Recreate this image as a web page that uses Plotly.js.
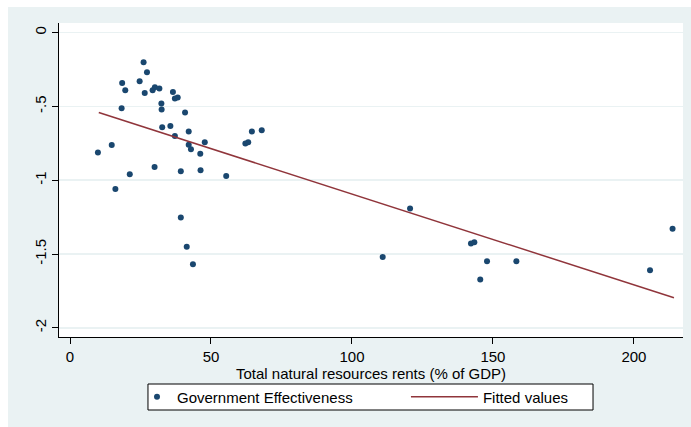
<!DOCTYPE html>
<html>
<head>
<meta charset="utf-8">
<script src="https://cdn.plot.ly/plotly-3.0.1.min.js"></script>
<style>
html,body{margin:0;padding:0;background:#ffffff;}
#chart{position:absolute;left:8px;top:7px;width:683px;height:420px;}
</style>
</head>
<body>
<div id="chart"></div>
<script>
// Total natural resources rents (% of GDP)
var rents = [26.1, 27.3, 18.5, 24.7, 19.6, 26.5, 29.3, 30.1, 31.7, 36.5,
             37.2, 38.2, 32.4, 32.5, 18.3, 40.8, 32.7, 35.6, 42.1, 37.2,
             42.1, 42.9, 47.8, 46.2, 9.9, 14.8, 21.2, 30.0, 39.3, 46.3,
             55.4, 16.1, 39.3, 41.4, 43.6, 62.2, 63.2, 64.5, 68.0,
             120.6, 110.9, 142.2, 143.4, 147.9, 145.5, 158.3, 205.7, 213.7];
// Government Effectiveness
var govEff = [-0.201, -0.269, -0.341, -0.330, -0.390, -0.410, -0.390, -0.370, -0.379, -0.402,
              -0.447, -0.440, -0.480, -0.521, -0.512, -0.541, -0.641, -0.632, -0.670, -0.700,
              -0.760, -0.790, -0.742, -0.821, -0.812, -0.762, -0.959, -0.911, -0.940, -0.932,
              -0.972, -1.060, -1.252, -1.450, -1.570, -0.751, -0.742, -0.670, -0.661,
              -1.191, -1.520, -1.428, -1.421, -1.549, -1.672, -1.549, -1.610, -1.329];
// Fitted values (linear fit)
var fitX = [10.2, 214.2];
var fitY = [-0.541, -1.796];

var xTickVals = [0, 50, 100, 150, 200];
var xTickText = ["0", "50", "100", "150", "200"];
var yTickVals = [0, -0.5, -1, -1.5, -2];
var yTickText = ["0", "-.5", "-1", "-1.5", "-2"];
var xTitle = "Total natural resources rents (% of GDP)";

var FONT = "Liberation Sans, Arial, Helvetica, sans-serif";

var traces = [
  {
    x: rents, y: govEff, type: "scatter", mode: "markers",
    name: "Government Effectiveness",
    legend: "legend",
    marker: {color: "#1a476f", size: 6, line: {width: 0}}
  },
  {
    x: fitX, y: fitY, type: "scatter", mode: "lines",
    name: "Fitted values",
    legend: "legend2",
    line: {color: "#90353b", width: 1.5}
  }
];

var legendCommon = {
  orientation: "h",
  yanchor: "middle", y: -0.1909,
  xanchor: "left",
  bgcolor: "rgba(0,0,0,0)", borderwidth: 0,
  font: {family: FONT, size: 15, color: "#000000"}
};

var layout = {
  width: 683, height: 420,
  paper_bgcolor: "#eaf2f3",
  plot_bgcolor: "#ffffff",
  margin: {l: 51, r: 8, t: 16, b: 90, autoexpand: false},
  font: {family: FONT, size: 15, color: "#000000"},
  showlegend: true,
  xaxis: {
    range: [-3.9, 217.4],
    tickmode: "array", tickvals: xTickVals, ticktext: xTickText,
    ticks: "outside", ticklen: 6, tickwidth: 1, tickcolor: "#000000",
    showgrid: false, zeroline: false,
    showline: true, linecolor: "#000000", linewidth: 1,
    tickfont: {family: FONT, size: 15, color: "#000000"}
  },
  yaxis: {
    range: [-2.062, 0.065],
    tickmode: "array", tickvals: yTickVals, ticktext: yTickText,
    tickangle: -90,
    ticks: "outside", ticklen: 6, tickwidth: 1, tickcolor: "#000000",
    showgrid: true, gridcolor: "#eaf2f3", gridwidth: 1.5,
    zeroline: false,
    showline: true, linecolor: "#000000", linewidth: 1,
    tickfont: {family: FONT, size: 15, color: "#000000"}
  },
  annotations: [
    {text: xTitle, xref: "paper", yref: "paper", x: 0.5, y: -0.117,
     xanchor: "center", yanchor: "middle", showarrow: false,
     font: {family: FONT, size: 15, color: "#000000"}}
  ],
  legend: Object.assign({}, legendCommon, {x: 0.125, itemwidth: 30}),
  legend2: Object.assign({}, legendCommon, {x: 0.556, itemwidth: 67}),
  shapes: [
    {type: "rect", xref: "paper", yref: "paper",
     x0: 0.1426, x1: 0.8558, y0: -0.2325, y1: -0.1497,
     fillcolor: "#ffffff", line: {color: "#000000", width: 1}, layer: "below"}
  ]
};

Plotly.newPlot("chart", traces, layout, {displayModeBar: false, staticPlot: true});
</script>
</body>
</html>
